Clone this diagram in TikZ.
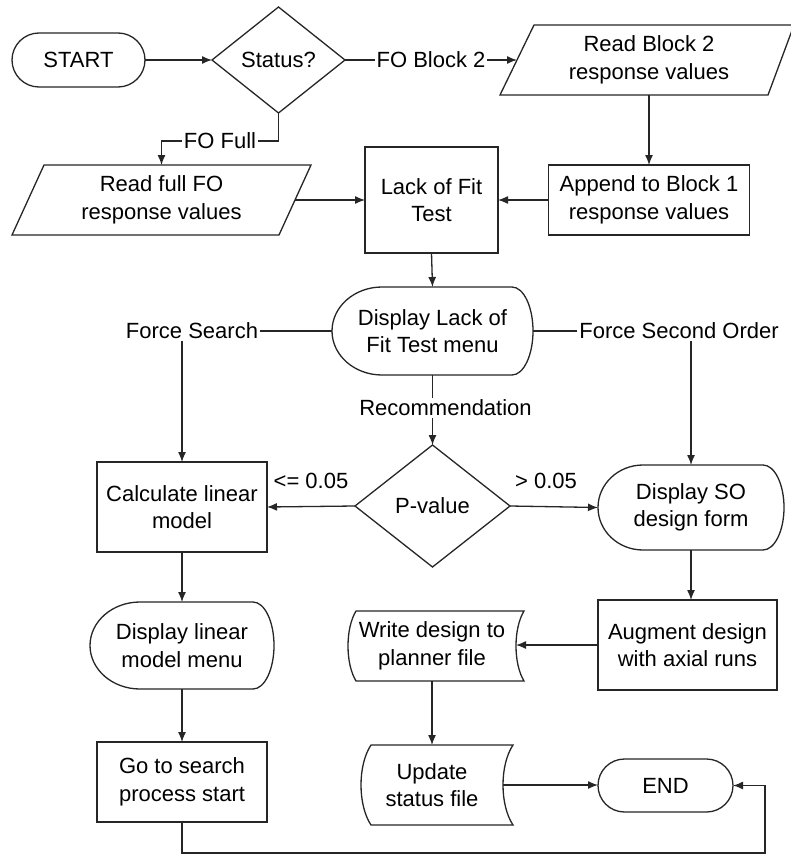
\documentclass[tikz,border=0pt]{standalone}
\usepackage{fontspec}
\setmainfont{Liberation Sans}
\usetikzlibrary{arrows.meta,shapes.geometric,shapes.misc}

\tikzset{
  txt/.style={font=\fontsize{22}{27.5}\selectfont, align=center, inner sep=0pt, outer sep=0pt, text=black},
  line/.style={draw=black!85, line width=1.3pt},
  terminal/.style={txt, line, rounded rectangle, minimum height=54},
  process/.style={txt, line, rectangle},
  decision/.style={txt, line, diamond},
  plain/.style={txt},
  arr/.style={line, -{Latex[length=10pt,width=8pt]}},
  lbl/.style={txt, fill=white, inner sep=2pt},
}

% display symbol: curved left side, shallow bulge on the right
\newcommand\dispoutline[4]{% node, left depth, right depth, height
  \draw[line] ([xshift=#2]#1.north west) -- ([xshift=-#3]#1.north east)
   .. controls ([xshift={-0.448*#3}]#1.north east) and ([yshift={0.276*#4}]#1.east) .. (#1.east)
   .. controls ([yshift={-0.276*#4}]#1.east) and ([xshift={-0.448*#3}]#1.south east) .. ([xshift=-#3]#1.south east)
   -- ([xshift=#2]#1.south west)
   .. controls ([xshift={0.448*#2}]#1.south west) and ([yshift={-0.276*#4}]#1.west) .. (#1.west)
   .. controls ([yshift={0.276*#4}]#1.west) and ([xshift={0.448*#2}]#1.north west) .. ([xshift=#2]#1.north west) -- cycle;}

% stored data symbol: convex left side, concave right side
\newcommand\storeoutline[3]{% node, bulge, height
  \draw[line] ([xshift=#2]#1.north west) -- ([xshift=#2]#1.north east)
   .. controls ([xshift={-#2/3}, yshift={-#3/4}]#1.north east) and ([xshift={-#2/3}, yshift={#3/4}]#1.south east) .. ([xshift=#2]#1.south east)
   -- ([xshift=#2]#1.south west)
   .. controls ([xshift={-#2/3}, yshift={#3/4}]#1.south west) and ([xshift={-#2/3}, yshift={-#3/4}]#1.north west) .. ([xshift=#2]#1.north west) -- cycle;}

% data (parallelogram) symbol
\newcommand\ioutline[3]{% node, left half slant, right half slant
  \draw[line] ([xshift=#2]#1.north west) -- ([xshift=#3]#1.north east)
   -- ([xshift=-#3]#1.south east) -- ([xshift=-#2]#1.south west) -- cycle;}

\begin{document}
\begin{tikzpicture}[x=1pt,y=-1pt]
\fill[white] (0,0) rectangle (791,856);
\useasboundingbox (0,0) rectangle (791,856);

% nodes
\node[terminal, minimum width=133] (start) at (78.5,60) {START};
\node[decision, minimum width=133, minimum height=106] (status) at (278.5,60) {Status?};
\node[plain, minimum width=264, minimum height=70] (rb2) at (649,60) {Read Block 2\\response values};
\node[plain, minimum width=267, minimum height=70] (rfo) at (161.5,200) {Read full FO\\response values};
\node[process, minimum width=133, minimum height=106] (lof) at (431.5,200) {Lack of Fit\\Test};
\node[process, minimum width=201, minimum height=70] (app) at (649,200) {Append to Block 1\\response values};
\node[plain, minimum width=201, minimum height=88] (dlof) at (432.5,331) {Display Lack of\\Fit Test menu};
\node[decision, minimum width=155, minimum height=122] (pval) at (432.5,506) {P-value};
\node[process, minimum width=170, minimum height=90] (calcm) at (182,507) {Calculate linear\\model};
\node[plain, minimum width=186, minimum height=85] (dso) at (691,507.5) {Display SO\\design form};
\node[plain, minimum width=184, minimum height=87] (dlin) at (182,645.5) {Display linear\\model menu};
\node[process, minimum width=179, minimum height=90] (aug) at (687.5,645) {Augment design\\with axial runs};
\node[plain, minimum width=168, minimum height=70] (wd) at (432,646) {Write design to\\planner file};
\node[process, minimum width=170, minimum height=80] (go) at (182,782) {Go to search\\process start};
\node[plain, minimum width=142, minimum height=80] (upd) at (432,785) {Update\\status file};
\node[terminal, minimum width=135, minimum height=53] (stop) at (665.5,785.5) {END};

% outlines of the special symbols
\ioutline{rb2}{17}{13}
\ioutline{rfo}{16}{16}
\dispoutline{dlof}{50}{21}{88}
\dispoutline{dso}{45}{21}{85}
\dispoutline{dlin}{50}{21}{87}
\storeoutline{wd}{8}{70}
\storeoutline{upd}{10}{80}

% connectors
\draw[arr] (start.east) -- (status.west);
\draw[arr] (status.east) -- node[lbl]{FO Block 2} (rb2.west);
\draw[arr] (status.south) -- ++(0,28) -| node[lbl, pos=0.25]{FO Full} (rfo.north);
\draw[arr] (rfo.east) -- (lof.west);
\draw[arr] (rb2.south) -- (app.north);
\draw[arr] (app.west) -- (lof.east);
\draw[arr] (lof.south) -- (dlof.north);
\draw[arr] (dlof.west) -| node[lbl, pos=0.5, xshift=10pt]{Force Search} (calcm.north);
\draw[arr] (dlof.east) -| node[lbl, pos=0.5, xshift=-12pt]{Force Second Order} (dso.north);
\draw[arr] (dlof.south) -- node[lbl, pos=0.47, xshift=13pt]{Recommendation} (pval.north);
\draw[arr] (pval.west) -- node[txt, midway, yshift=26pt]{<= 0.05} (calcm.east);
\draw[arr] (pval.east) -- node[txt, midway, yshift=26pt, xshift=-8pt]{> 0.05} (dso.west);
\draw[arr] (calcm.south) -- (dlin.north);
\draw[arr] (dlin.south) -- (go.north);
\draw[arr] (dso.south) -- (dso.south |- aug.north);
\draw[arr] (aug.west) -- (aug.west -| wd.east);
\draw[arr] (wd.south) -- (upd.north);
\draw[arr] (upd.east) -- (upd.east -| stop.west);
\draw[arr] (go.south) -- ++(0,31) -| ([xshift=32pt]stop.east) -- (stop.east);
\end{tikzpicture}
\end{document}
